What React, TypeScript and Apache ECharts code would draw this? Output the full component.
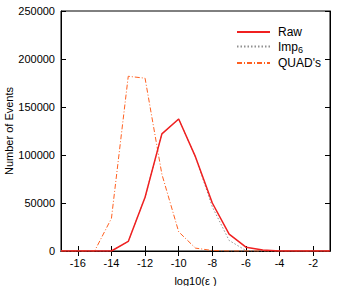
import React, { useEffect, useRef } from "react";
import * as echarts from "echarts";

const xValues = [-17, -16, -15, -14, -13, -12, -11, -10, -9, -8, -7, -6, -5, -4, -3, -2, -1];
const rawValues = [0, 0, 0, 0, 10000, 56000, 122000, 137500, 98000, 50000, 17500, 4000, 1000, 0, 0, 0, 0];
const imp6Values = [0, 0, 0, 0, 10000, 56000, 122000, 137500, 98000, 46000, 11000, 500, 0, 0, 0, 0, 0];
const quadValues = [0, 0, 0, 34000, 182000, 180000, 80000, 20000, 3000, 500, 0, 0, 0, 0, 0, 0, 0];
const xTicks = [-16, -14, -12, -10, -8, -6, -4, -2];
const seriesNames = ["Raw", "Imp6", "QUAD's"];

const FONT = "Liberation Sans";

export default function App() {
  const ref = useRef<HTMLDivElement>(null);
  useEffect(() => {
    if (!ref.current) return;
    const chart = echarts.init(ref.current, null, { renderer: "svg" });
    const pair = (ys: number[]) => xValues.map((x, i) => [x, ys[i]]);
    const axisCommon = {
      axisLine: { show: true, lineStyle: { color: "#000", width: 1 } },
      splitLine: { show: false },
    };
    chart.setOption({
      animation: false,
      backgroundColor: "#fff",
      textStyle: { fontFamily: FONT },
      grid: {
        left: 61,
        right: 21,
        top: 11,
        bottom: 35,
        show: true,
        borderColor: "#000",
        borderWidth: 1,
        outerBoundsMode: "none",
        containLabel: false,
      },
      legend: {
        left: 231,
        top: 21,
        orient: "vertical",
        itemWidth: 33,
        itemHeight: 8,
        itemGap: 2.5,
        data: seriesNames,
        itemStyle: { opacity: 0 },
        textStyle: {
          fontFamily: FONT,
          fontSize: 12,
          color: "#000",
          padding: [0, 0, 0, 3],
          rich: { sub: { fontSize: 9, fontFamily: FONT, padding: [7, 0, 0, 0], color: "#000" } },
        },
        formatter: (n: string) => (n === "Imp6" ? "Imp{sub|6}" : n),
      },
      xAxis: [
        {
          type: "value",
          min: -17,
          max: -1,
          ...axisCommon,
          name: "log10(ε )",
          nameLocation: "middle",
          nameGap: 24,
          nameMoveOverlap: false,
          nameTextStyle: { fontFamily: FONT, fontSize: 11, color: "#000" },
          axisTick: { inside: true, length: 5, customValues: xTicks, lineStyle: { color: "#000" } },
          axisLabel: { customValues: xTicks, fontFamily: FONT, fontSize: 11, color: "#000", margin: 6 },
        },
        {
          type: "value",
          min: -17,
          max: -1,
          position: "top",
          ...axisCommon,
          axisTick: { inside: true, length: 5, customValues: xTicks, lineStyle: { color: "#000" } },
          axisLabel: { show: false },
        },
      ],
      yAxis: [
        {
          type: "value",
          min: 0,
          max: 250000,
          interval: 50000,
          ...axisCommon,
          name: "Number of Events",
          nameLocation: "middle",
          nameGap: 47,
          nameMoveOverlap: false,
          nameTextStyle: { fontFamily: FONT, fontSize: 11, color: "#000" },
          axisTick: { inside: true, length: 5, lineStyle: { color: "#000" } },
          axisLabel: { fontFamily: FONT, fontSize: 11, color: "#000", margin: 6, formatter: (v: number) => String(v) },
        },
        {
          type: "value",
          min: 0,
          max: 250000,
          interval: 50000,
          position: "right",
          ...axisCommon,
          axisTick: { inside: true, length: 5, lineStyle: { color: "#000" } },
          axisLabel: { show: false },
        },
      ],
      series: [
        {
          name: "Raw",
          type: "line",
          data: pair(rawValues),
          symbol: "none",
          z: 3,
          lineStyle: { color: "#f02020", width: 1.5, type: "solid" },
          itemStyle: { color: "#f02020" },
        },
        {
          name: "Imp6",
          type: "line",
          data: pair(imp6Values),
          symbol: "none",
          z: 2,
          lineStyle: { color: "#909090", width: 1, type: [1.5, 2] },
          itemStyle: { color: "#909090" },
        },
        {
          name: "QUAD's",
          type: "line",
          data: pair(quadValues),
          symbol: "none",
          z: 2,
          lineStyle: { color: "#ff6020", width: 1, type: [5, 2, 1, 2] },
          itemStyle: { color: "#ff6020" },
        },
      ],
    });
    return () => chart.dispose();
  }, []);
  return <div ref={ref} style={{ position: "absolute", left: 0, top: 0, width: 351, height: 286 }} />;
}
